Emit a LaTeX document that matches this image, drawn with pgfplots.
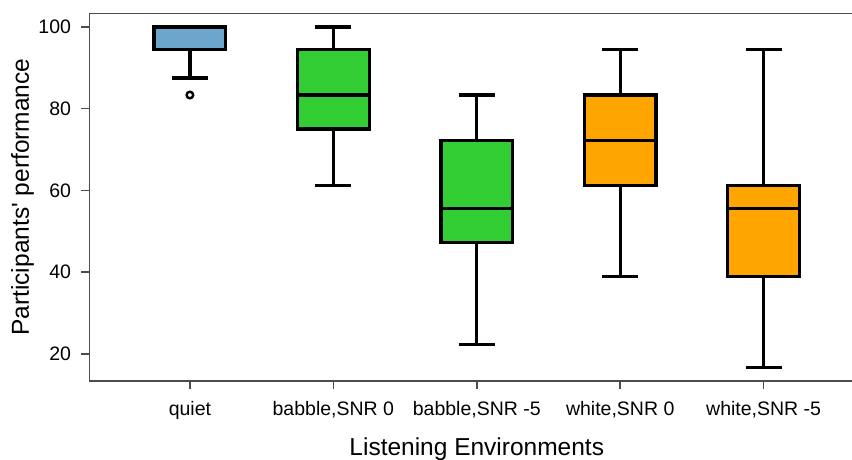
\documentclass[border=0pt]{standalone}
\usepackage{pgfplots}
\pgfplotsset{compat=1.18}
\usepgfplotslibrary{statistics}
\usepackage{fontspec}
\setmainfont{Liberation Sans}
\definecolor{qblue}{RGB}{108,166,205}
\definecolor{lgreen}{RGB}{50,205,50}
\definecolor{orng}{RGB}{255,165,0}
\begin{document}
\begin{tikzpicture}
\path[use as bounding box] (-89.5pt,-79pt) rectangle (762.5pt,381pt);
\begin{axis}[
  at={(0,0)}, anchor=south west, scale only axis,
  width=762.5pt, height=367.7pt,
  xmin=0.3, xmax=5.616, ymin=13.333, ymax=103.333,
  axis x line=bottom, axis y line=left,
  axis line style={-, line width=1.5pt, black!70},
  xtick={1,2,3,4,5},
  xticklabels={quiet,{babble,SNR 0},{babble,SNR -5},{white,SNR 0},{white,SNR -5}},
  ytick={20,40,60,80,100},
  tick align=outside, major tick length=8pt,
  tick style={line width=1.5pt, black!70},
  ticklabel style={font=\fontsize{19.5}{23}\selectfont},
  yticklabel style={xshift=-7pt},
  xticklabel style={yshift=-9pt},
  /pgf/number format/assume math mode=true,
  xlabel={Listening Environments},
  ylabel={Participants\textquotesingle\ performance},
  label style={font=\fontsize{24.5}{29}\selectfont},
  xlabel style={at={(axis cs:3,13.333)}, anchor=center, yshift=-68pt},
  ylabel style={at={(axis description cs:0,0.5)}, anchor=center, yshift=67pt},
  boxplot/draw direction=y,
  boxplot/box extend=0.5,
  boxplot/whisker extend=0.25,
  clip=false,
  extra description/.code={\draw[line width=1.5pt, black!70] (axis description cs:0,1) -- (axis description cs:1,1);},
]
\addplot[boxplot prepared={median=100, upper quartile=100, lower quartile=94.44, upper whisker=100, lower whisker=87.5, draw position=1},
  fill=qblue, draw=black, solid, line width=3.2pt, mark=o, mark size=3.3pt, mark options={line width=2.4pt, fill=none, draw=black}]
  table[row sep=\\, y index=0] {83.33\\};
\addplot[boxplot prepared={median=83.33, upper quartile=94.44, lower quartile=75, upper whisker=100, lower whisker=61.11, draw position=2},
  fill=lgreen, draw=black, solid, line width=3.2pt] coordinates {};
\addplot[boxplot prepared={median=55.56, upper quartile=72.22, lower quartile=47.22, upper whisker=83.33, lower whisker=22.22, draw position=3},
  fill=lgreen, draw=black, solid, line width=3.2pt] coordinates {};
\addplot[boxplot prepared={median=72.22, upper quartile=83.33, lower quartile=61.11, upper whisker=94.44, lower whisker=38.89, draw position=4},
  fill=orng, draw=black, solid, line width=3.2pt] coordinates {};
\addplot[boxplot prepared={median=55.56, upper quartile=61.11, lower quartile=38.89, upper whisker=94.44, lower whisker=16.67, draw position=5},
  fill=orng, draw=black, solid, line width=3.2pt] coordinates {};
\end{axis}
\end{tikzpicture}
\end{document}
